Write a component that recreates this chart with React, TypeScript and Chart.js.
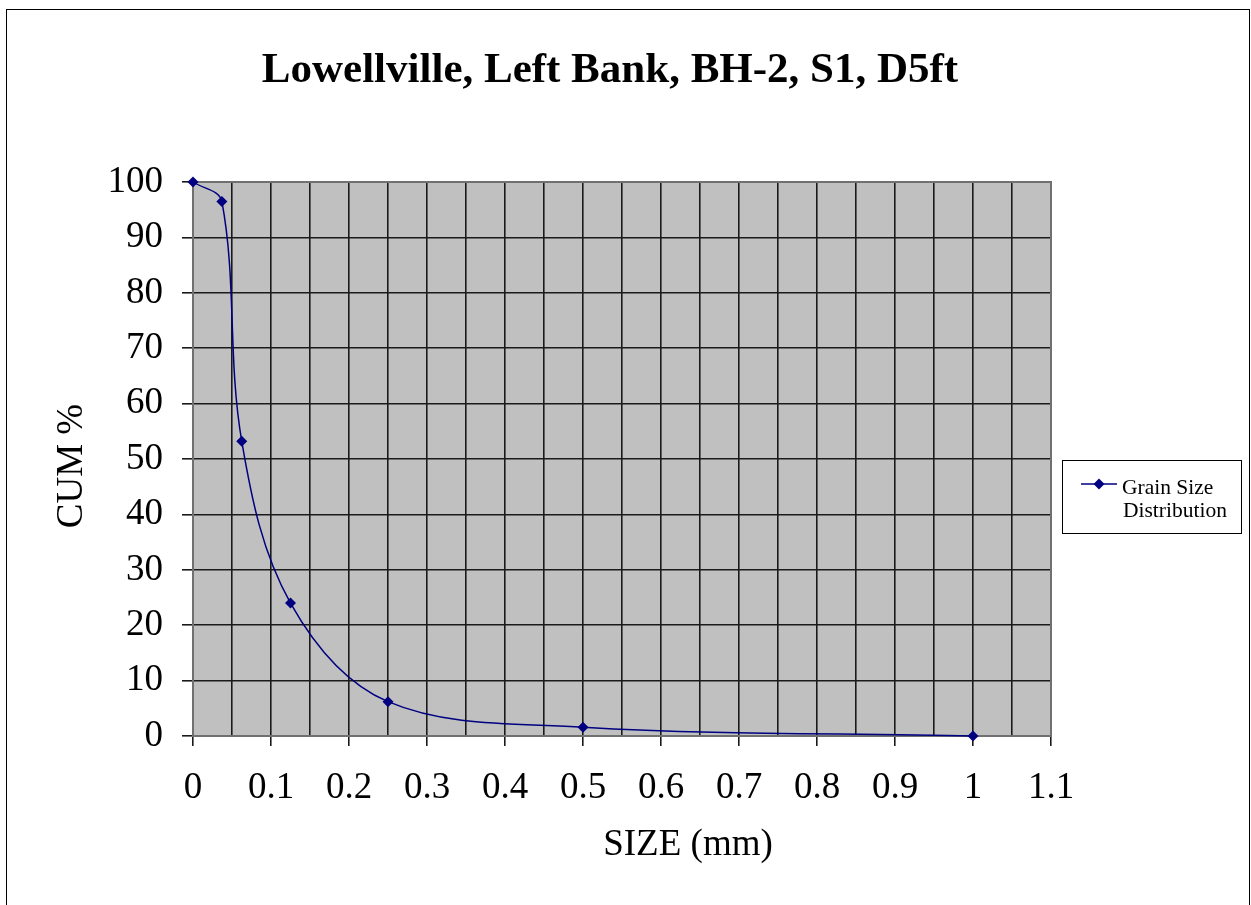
import React, { useEffect, useRef } from "react";
import { Chart, registerables } from "chart.js";

Chart.register(...registerables);

const chartTitle = "Lowellville, Left Bank, BH-2, S1, D5ft";
const xAxisTitle = "SIZE (mm)";
const yAxisTitle = "CUM %";
const seriesName = "Grain Size Distribution";
const legendLines = ["Grain Size", "Distribution"];

const sizes = [0, 0.037, 0.0625, 0.125, 0.25, 0.5, 1];
const cumPercent = [100, 96.5, 53.2, 24.0, 6.2, 1.6, 0];

const xMin = 0;
const xMax = 1.1;
const xGridStep = 0.05;
const yMin = 0;
const yMax = 100;
const yStep = 10;

const FONT = "'Liberation Serif', 'Times New Roman', serif";
const NAVY = "#000080";
const GRID = "#1a1a1a";

const isTenth = (v: number) => Math.abs(v * 10 - Math.round(v * 10)) < 1e-6;

const decorPlugin = {
  id: "decor",
  beforeDraw(chart: any) {
    const { ctx, chartArea: a } = chart;
    ctx.save();
    ctx.fillStyle = "#ffffff";
    ctx.fillRect(0, 0, chart.width, chart.height);
    ctx.strokeStyle = "#000000";
    ctx.lineWidth = 1;
    ctx.strokeRect(6.5, 9.5, 1243, 1000);
    ctx.fillStyle = "#c0c0c0";
    ctx.fillRect(a.left, a.top, a.right - a.left, a.bottom - a.top);
    ctx.restore();
  },
  beforeDatasetsDraw(chart: any) {
    const { ctx, chartArea: a } = chart;
    ctx.save();
    ctx.strokeStyle = "#707070";
    ctx.lineWidth = 2;
    ctx.strokeRect(a.left, a.top, a.right - a.left, a.bottom - a.top);
    ctx.restore();
  },
  afterDraw(chart: any) {
    const { ctx } = chart;
    ctx.save();
    ctx.fillStyle = "#000000";
    ctx.font = `bold 43px ${FONT}`;
    ctx.textAlign = "center";
    ctx.textBaseline = "alphabetic";
    ctx.fillText(chartTitle, 610, 82);
    ctx.font = `37px ${FONT}`;
    ctx.fillText(xAxisTitle, 688, 855);
    ctx.save();
    ctx.translate(82, 466);
    ctx.rotate(-Math.PI / 2);
    ctx.textAlign = "center";
    ctx.fillText(yAxisTitle, 0, 0);
    ctx.restore();
    // legend
    ctx.strokeStyle = "#000000";
    ctx.lineWidth = 1;
    ctx.strokeRect(1062.5, 460.5, 179, 73);
    ctx.strokeStyle = NAVY;
    ctx.lineWidth = 1.5;
    ctx.beginPath();
    ctx.moveTo(1081, 484);
    ctx.lineTo(1117, 484);
    ctx.stroke();
    ctx.fillStyle = NAVY;
    ctx.beginPath();
    ctx.moveTo(1099, 478.5);
    ctx.lineTo(1104.5, 484);
    ctx.lineTo(1099, 489.5);
    ctx.lineTo(1093.5, 484);
    ctx.closePath();
    ctx.fill();
    ctx.fillStyle = "#000000";
    ctx.font = `21.5px ${FONT}`;
    ctx.textAlign = "left";
    ctx.fillText(legendLines[0], 1122, 494);
    ctx.fillText(legendLines[1], 1123, 517);
    ctx.restore();
  },
};

export default function App() {
  const ref = useRef<HTMLCanvasElement | null>(null);

  useEffect(() => {
    if (!ref.current) return;
    const chart = new Chart(ref.current, {
      type: "scatter",
      data: {
        datasets: [
          {
            label: seriesName,
            data: sizes.map((x, i) => ({ x, y: cumPercent[i] })),
            showLine: true,
            borderColor: NAVY,
            backgroundColor: NAVY,
            borderWidth: 1.5,
            pointStyle: "rectRot",
            pointRadius: 5.5,
            pointBorderWidth: 0,
            tension: 0.35,
            clip: false,
          },
        ],
      },
      options: {
        animation: false,
        responsive: false,
        devicePixelRatio: 1,
        layout: { padding: { top: 182, right: 200, left: 0, bottom: 0 } },
        plugins: {
          legend: { display: false },
          title: { display: false },
          tooltip: { enabled: false },
        },
        scales: {
          x: {
            type: "linear",
            min: xMin,
            max: xMax,
            afterFit: (s: any) => {
              s.height = 169;
            },
            border: { display: false },
            grid: {
              color: (c: any) =>
                c.tick && (Math.abs(c.tick.value - xMin) < 1e-6 || Math.abs(c.tick.value - xMax) < 1e-6)
                  ? "rgba(0,0,0,0)"
                  : GRID,
              lineWidth: 1.6,
              tickLength: 10,
              tickWidth: 1.6,
              tickColor: (c: any) => (c.tick && isTenth(c.tick.value) ? GRID : "rgba(0,0,0,0)"),
            },
            ticks: {
              stepSize: xGridStep,
              autoSkip: false,
              maxRotation: 0,
              minRotation: 0,
              padding: 20,
              color: "#000000",
              font: { family: FONT, size: 37 },
              callback: (v: any) => (isTenth(Number(v)) ? String(parseFloat(Number(v).toFixed(2))) : ""),
            },
          },
          y: {
            type: "linear",
            min: yMin,
            max: yMax,
            afterFit: (s: any) => {
              s.width = 193;
            },
            border: { display: false },
            grid: {
              color: (c: any) =>
                c.tick && (c.tick.value === yMin || c.tick.value === yMax) ? "rgba(0,0,0,0)" : GRID,
              lineWidth: 1.6,
              tickLength: 11,
              tickWidth: 1.6,
              tickColor: GRID,
            },
            ticks: {
              stepSize: yStep,
              padding: 19,
              color: "#000000",
              font: { family: FONT, size: 37 },
            },
          },
        },
      },
      plugins: [decorPlugin],
    } as any);
    return () => chart.destroy();
  }, []);

  return (
    <canvas
      ref={ref}
      width={1251}
      height={905}
      style={{ position: "absolute", left: 0, top: 0, width: 1251, height: 905 }}
    />
  );
}
